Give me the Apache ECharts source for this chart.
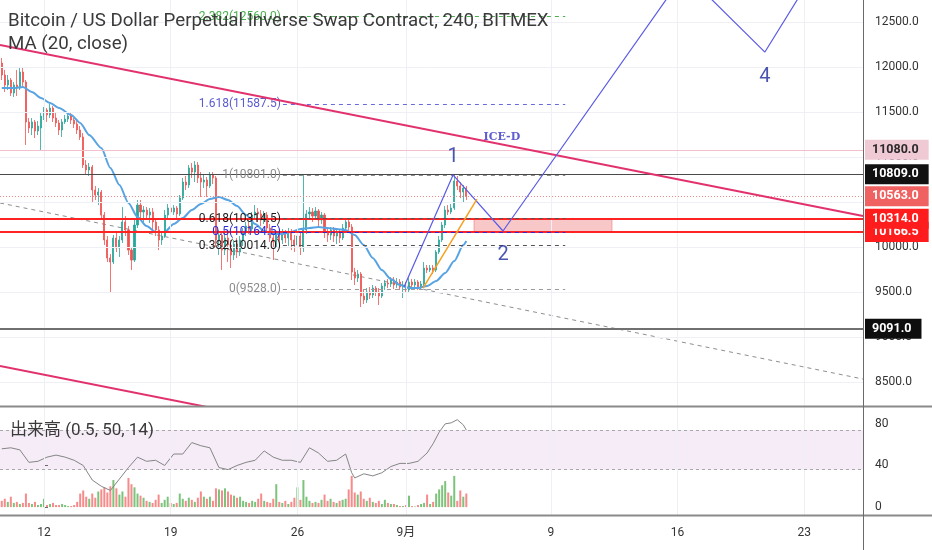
<!DOCTYPE html>
<html><head><meta charset="utf-8">
<script src="https://cdn.jsdelivr.net/npm/echarts@6/dist/echarts.min.js"></script>
<style>html,body{margin:0;padding:0;background:#fff}#c{width:932px;height:550px}</style>
</head><body><div id="c"></div>
<script>
// ---- data ----
const startDay = -2 - 1/3;          // first 4h bar: Aug 9 16:00 (days from Aug 12 00:00)
const barDays = 1/6;                // 4h bars
const candles = [ // [open, close, low, high]
[12044,11911,11855,12100],[11911,11800,11722,11967],[11800,11855,11744,11911],[11855,11711,11678,11878],[11711,11800,11666,11833],
[11800,11766,11678,11967],[11766,11944,11744,11989],[11944,11833,11789,12000],[11833,11389,11133,11855],[11389,11322,11266,11433],
[11322,11389,11244,11433],[11389,11289,11211,11411],[11289,11344,11244,11400],[11322,11455,11078,11500],[11455,11522,11411,11555],
[11522,11467,11389,11544],[11467,11544,11433,11589],[11544,11433,11389,11566],[11433,11378,11333,11500],[11378,11300,11244,11411],
[11300,11389,11222,11422],[11389,11422,11367,11467],[11422,11455,11389,11489],[11455,11411,11367,11489],[11411,11367,11322,11433],
[11367,11300,11255,11400],[11300,11222,11189,11344],[11222,10911,10878,11266],[10911,10855,10800,10966],[10855,10889,10789,10933],
[10889,10633,10489,10911],[10633,10578,10522,10678],[10578,10611,10466,10655],[10611,10355,10300,10633],[10355,10078,10022,10389],
[10078,9878,9833,10122],[9878,9833,9500,9922],[9833,10100,9811,10133],[10100,9989,9944,10167],[9989,10078,9889,10122],
[10078,10278,10044,10444],[10278,10189,10122,10344],[10189,9966,9911,10233],[9966,9855,9744,10000],[9855,10244,9833,10300],
[10244,10466,10211,10522],[10466,10389,10322,10522],[10389,10411,10278,10455],[10411,10355,10300,10444],[10355,10389,10267,10433],
[10389,10278,10189,10433],[10278,10189,10122,10322],[10189,10078,9966,10233],[10078,10122,10022,10167],[10122,10355,10100,10411],
[10355,10433,10322,10478],[10433,10389,10344,10478],[10389,10433,10355,10466],[10433,10367,10322,10455],[10367,10544,10344,10578],
[10544,10722,10522,10767],[10722,10689,10633,10789],[10689,10878,10655,10911],[10878,10833,10767,10933],[10833,10911,10722,10955],
[10911,10767,10711,10944],[10767,10722,10555,10833],[10722,10744,10655,10800],[10744,10678,10555,10778],[10678,10800,10655,10833],
[10800,10767,10700,10833],[10767,10078,9989,10789],[10078,10133,9911,10189],[10133,9966,9744,10167],[9966,10100,9911,10155],
[10100,10022,9833,10144],[10022,9911,9767,10078],[9911,10033,9855,10078],[10033,9944,9878,10100],[9944,10078,9900,10122],
[10078,10167,10011,10211],[10167,10233,10122,10278],[10233,10200,10144,10278],[10200,10355,10178,10389],[10355,10389,10300,10466],
[10389,10367,10278,10433],[10367,10300,10233,10411],[10300,10355,10255,10400],[10355,10211,10167,10389],[10211,10100,10056,10255],
[10100,10056,9855,10144],[10056,10133,9989,10178],[10133,10078,10011,10189],[10078,10144,10033,10200],[10144,10100,10044,10189],
[10100,10167,10011,10211],[10167,10078,9966,10200],[10078,10022,9944,10133],[10022,10122,9966,10167],[10122,9989,9911,10155],
[9989,10189,9944,10801],[10189,10367,10144,10411],[10367,10389,10300,10444],[10389,10344,10278,10433],[10344,10400,10300,10444],
[10400,10300,10233,10422],[10300,10355,10255,10389],[10355,10167,10100,10378],[10167,10133,10056,10211],[10133,10189,10078,10222],
[10189,10122,10056,10222],[10122,10167,10033,10200],[10167,10100,10044,10189],[10100,10211,10078,10255],[10211,10278,10167,10322],
[10278,10222,10189,10311],[10222,9722,9633,10255],[9722,9655,9578,9767],[9655,9700,9611,9744],[9700,9455,9333,9722],
[9455,9411,9366,9522],[9411,9500,9378,9544],[9500,9466,9422,9555],[9466,9544,9433,9578],[9544,9500,9455,9566],
[9500,9455,9355,9544],[9455,9566,9433,9600],[9566,9600,9522,9633],[9600,9589,9544,9644],[9589,9633,9555,9666],
[9633,9578,9533,9666],[9578,9611,9544,9655],[9611,9555,9522,9644],[9555,9578,9433,9622],[9578,9522,9500,9611],
[9522,9611,9500,9655],[9611,9578,9544,9644],[9578,9611,9544,9644],[9611,9555,9522,9633],[9555,9589,9522,9622],
[9589,9766,9566,9833],[9766,9744,9711,9800],[9744,9766,9722,9800],[9766,9744,9700,9800],[9744,9944,9722,9966],
[9944,10078,9922,10122],[10078,10244,10056,10278],[10244,10411,10211,10455],[10411,10389,10355,10466],[10389,10433,10366,10478],
[10433,10733,10411,10801],[10733,10678,10633,10789],[10678,10611,10544,10722],[10611,10655,10489,10689],[10655,10563,10522,10678]
];
const volumes = [
6,8,5,10,4,5,3,4,13,4, 3,5,2,3,8,2,3,4,2,2, 3,2,1,1,2,5,13,16,10,8, 13,9,15,17,19,14,20,26,18,12,
15,10,28,22,19,13,11,9,6,5, 4,7,12,4,7,10,4,3,4,13, 8,6,9,7,5,9,15,10,8,10, 6,18,17,16,18,15,12,11,9,10,
6,5,4,6,5,8,13,6,5,4, 8,22,5,4,6,3,5,9,19,7, 26,10,6,4,5,4,7,12,6,8, 5,4,6,7,8,17,30,14,12,15,
8,6,9,5,4,6,3,7,4,3, 3,2,1,1,2,11,1,0.5,2,3, 4,12,3,5,13,17,21,25,14,11, 30,6,16,10,13
];
const maIdx = [0,4,7,10,13,16,19,23,26,29,33,36,39,42,45,48,51,54,57,60,63,66,69,72,75,78,81,84,87,90,93,96,99,102,105,108,111,114,117,120,123,126,129,132,135,138,141,144,147,150,153,154];
const maVal = [11766,11766,11778,11722,11655,11600,11544,11467,11378,11244,11100,10878,10689,10489,10333,10233,10167,10167,10255,10322,10411,10478,10533,10555,10522,10455,10355,10255,10178,10144,10144,10167,10200,10211,10222,10211,10200,10189,10133,10022,9878,9744,9644,9578,9544,9544,9567,9622,9711,9844,10022,10067];
const oscIdx = [0,3,6,9,12,15,18,21,24,27,30,33,36,39,42,45,48,51,54,57,60,63,66,69,72,75,78,81,84,87,90,93,96,99,102,105,108,111,114,116,117,120,123,126,129,132,135,138,141,143,145,147,149,151,153,154];
const oscVal = [56,57,55,43,44,48,50,48,45,40,26,20,16,27,38,48,44,45,40,51,51,62,59,57,38,36,40,43,45,54,48,45,45,43,57,52,44,45,51,33,28,32,30,33,39,42,42,44,52,61,72,80,81,84,79,74];
const oscBand = [36, 74];
const xTickDays = [0, 7, 14, 20, 28, 35, 42];
const xTickLabels = ['12', '19', '26', '9月', '9', '16', '23'];
const priceTicks = [8500, 9000, 9500, 10000, 10500, 11000, 11500, 12000, 12500];
const oscTicks = [0, 40, 80];
const levelPrices = [11080, 10809, 10563, 10166.5, 10314, 9091];
const fibRatios = ['2.382', '1.618', '1', '0.618', '0.5', '0.382', '0'];
const fibValues = [12560.0, 11587.5, 10801.0, 10314.5, 10164.5, 10014.0, 9528.0];
const fibSpan = [13.2, 28.8];
const upperTrend = [[-2.431, 12244], [45.25, 10344]];
const lowerTrend = [[-2.431, 8678], [45.25, 6778]];
const supportTrend = [[-2.431, 10489], [45.25, 8533]];
const wavePath = [[19.89, 9556], [22.6, 10801], [25.36, 10178], [35.41, 13044], [39.83, 12166], [42.6, 13066]];
const orangeLine = [[20.94, 9544], [23.92, 10533]];
const zoneBox = [[23.76, 10314], [31.38, 10166.5]];
const waveLabels = [[22.6, 11000, '1'], [25.36, 9911, '2'], [39.83, 11889, '4']];
const noteLabel = [[25.3, 11222, 'ICE-D']];

// ---- styles ----
const FONT = "Roboto, 'Noto Sans CJK JP', sans-serif";
const UP = '#26a69a', DOWN = '#ef5350';
const levelStyle = {
  11080: {line: {color: '#f2bfcd', width: 1, type: 'solid'}, bg: '#efc9d4', fg: '#2a2a2a'},
  10809: {line: {color: '#4a4a4a', width: 1.2, type: 'solid'}, bg: '#111111', fg: '#ffffff'},
  10563: {line: {color: '#f08a8a', width: 1, type: [1, 2]}, bg: '#f06262', fg: '#ffffff'},
  10314: {line: {color: '#ff2323', width: 2, type: 'solid'}, bg: '#ff1c1c', fg: '#ffffff'},
  10166.5: {line: {color: '#ff2323', width: 2, type: 'solid'}, bg: '#ff1c1c', fg: '#ffffff'},
  9091: {line: {color: '#707070', width: 2, type: 'solid'}, bg: '#0e0e0e', fg: '#ffffff'}
};
const fibStyle = {
  '2.382': {line: '#4caf50', text: '#4caf50'},
  '1.618': {line: '#6b6be0', text: '#5b5bd0'},
  '1': {line: '#8c8c8c', text: '#8c8c8c'},
  '0.618': {line: '#555555', text: '#1a1a1a'},
  '0.5': {line: '#2a2ad8', text: '#2a2ad8'},
  '0.382': {line: '#555555', text: '#1a1a1a'},
  '0': {line: '#9a9a9a', text: '#8c8c8c'}
};

const dayOf = i => startDay + i * barDays;
const chart = echarts.init(document.getElementById('c'));

const gridLineStyle = {color: '#eef0f5', width: 1, type: 'solid'};

const option = {
  animation: false,
  backgroundColor: '#ffffff',
  grid: [
    {left: 0, right: 69, top: 0, height: 406},
    {left: 0, right: 69, top: 407, height: 108}
  ],
  xAxis: [
    {type: 'value', gridIndex: 0, min: -2.431, max: 45.25, show: false},
    {type: 'value', gridIndex: 1, min: -2.431, max: 45.25,
      axisLine: {show: false}, splitLine: {show: false},
      axisTick: {show: true, customValues: xTickDays, length: 5, lineStyle: {color: '#666'}},
      axisLabel: {customValues: xTickDays, margin: 12, color: '#333', fontSize: 12, fontFamily: FONT,
        formatter: v => xTickLabels[xTickDays.indexOf(Math.round(v))] || ''}}
  ],
  yAxis: [
    {type: 'value', gridIndex: 0, position: 'right', min: 8233.3, max: 12744.4, scale: true,
      axisLine: {show: false}, splitLine: {show: false},
      axisTick: {show: true, customValues: priceTicks, length: 4, lineStyle: {color: '#666'}},
      axisLabel: {customValues: priceTicks, margin: 12, color: '#333', fontSize: 12, fontFamily: FONT,
        formatter: v => v.toFixed(1)}},
    {type: 'value', gridIndex: 1, position: 'right', min: -7.6, max: 96.2,
      axisLine: {show: false}, splitLine: {show: false},
      axisTick: {show: true, customValues: oscTicks, length: 4, lineStyle: {color: '#666'}},
      axisLabel: {customValues: oscTicks, margin: 12, color: '#333', fontSize: 12, fontFamily: FONT}}
  ],
  series: [
    // grid lines main pane
    {type: 'line', xAxisIndex: 0, yAxisIndex: 0, data: [[0, 10000]], showSymbol: false, symbol: 'none',
      lineStyle: {opacity: 0}, silent: true, z: 0,
      markLine: {symbol: ['none', 'none'], silent: true, label: {show: false}, lineStyle: gridLineStyle,
        data: [...priceTicks.map(v => ({yAxis: v})), ...xTickDays.map(d => ({xAxis: d}))]}},
    // grid lines lower pane
    {type: 'line', xAxisIndex: 1, yAxisIndex: 1, data: [[0, 50]], showSymbol: false, symbol: 'none',
      lineStyle: {opacity: 0}, silent: true, z: 0,
      markArea: {silent: true, itemStyle: {color: 'rgba(175,110,195,0.13)'},
        data: [[{yAxis: oscBand[0]}, {yAxis: oscBand[1]}]]},
      markLine: {symbol: ['none', 'none'], silent: true, label: {show: false}, lineStyle: gridLineStyle,
        data: xTickDays.map(d => ({xAxis: d}))}},
    // zone rectangle
    {type: 'line', xAxisIndex: 0, yAxisIndex: 0, data: [[0, 10000]], showSymbol: false, symbol: 'none',
      lineStyle: {opacity: 0}, silent: true, z: 1,
      markArea: {silent: true, itemStyle: {color: 'rgba(240,130,130,0.45)', borderColor: 'rgba(238,120,120,0.6)', borderWidth: 1},
        data: [[{coord: zoneBox[0]}, {coord: zoneBox[1]}]]}},
    // support dashed trend
    {type: 'line', xAxisIndex: 0, yAxisIndex: 0, data: supportTrend, symbol: 'none', silent: true, z: 2,
      lineStyle: {color: '#8e8e8e', width: 1, type: [4, 4]}},
    // candles
    {type: 'candlestick', xAxisIndex: 0, yAxisIndex: 0, z: 3,
      data: candles.map((c, i) => [dayOf(i), c[0], c[1], c[2], c[3]]),
      encode: {x: 0, y: [1, 2, 3, 4]},
      barWidth: 1.6,
      itemStyle: {color: UP, color0: DOWN, borderColor: UP, borderColor0: DOWN, borderWidth: 0.8}},
    // MA 20
    {type: 'line', xAxisIndex: 0, yAxisIndex: 0, z: 4, symbol: 'none', smooth: 0.25, smoothMonotone: 'x',
      data: maIdx.map((i, k) => [dayOf(i), maVal[k]]),
      lineStyle: {color: '#58a3e2', width: 2}},
    // level lines + price tags
    {type: 'line', xAxisIndex: 0, yAxisIndex: 0, data: [[0, 10000]], showSymbol: false, symbol: 'none',
      lineStyle: {opacity: 0}, silent: true, z: 5,
      markLine: {symbol: ['none', 'none'], silent: true,
        data: levelPrices.map(v => ({yAxis: v, lineStyle: levelStyle[v].line,
          label: {show: true, position: 'end', distance: 2, formatter: v.toFixed(1),
            backgroundColor: levelStyle[v].bg, color: levelStyle[v].fg, fontSize: 12.5, fontWeight: 'bold',
            fontFamily: FONT, lineHeight: 14, padding: [3, 10, 3, 7]}}))}},
    // fib levels
    {type: 'line', xAxisIndex: 0, yAxisIndex: 0, data: [[0, 10000]], showSymbol: false, symbol: 'none',
      lineStyle: {opacity: 0}, silent: true, z: 6,
      markLine: {symbol: ['none', 'none'], silent: true,
        data: fibRatios.map((r, k) => [
          {coord: [fibSpan[0], fibValues[k]], lineStyle: {color: fibStyle[r].line, width: 1, type: [4, 4]},
            label: {show: true, position: 'start', distance: 2, formatter: r + '(' + fibValues[k].toFixed(1) + ')',
              color: fibStyle[r].text, fontSize: 12, fontFamily: FONT}},
          {coord: [fibSpan[1], fibValues[k]]}])}},
    // upper & lower channel
    {type: 'line', xAxisIndex: 0, yAxisIndex: 0, data: upperTrend, symbol: 'none', silent: true, z: 7,
      lineStyle: {color: '#e2326e', width: 2}},
    {type: 'line', xAxisIndex: 0, yAxisIndex: 0, data: lowerTrend, symbol: 'none', silent: true, z: 7,
      lineStyle: {color: '#e2326e', width: 2}},
    // wave path
    {type: 'line', xAxisIndex: 0, yAxisIndex: 0, data: wavePath, symbol: 'none', silent: true, z: 8,
      lineStyle: {color: '#5b5be6', width: 1.2}},
    {type: 'line', xAxisIndex: 0, yAxisIndex: 0, data: orangeLine, symbol: 'none', silent: true, z: 8,
      lineStyle: {color: '#f6a01f', width: 1.5}},
    // wave labels
    {type: 'scatter', xAxisIndex: 0, yAxisIndex: 0, data: waveLabels, symbolSize: 0, silent: true, z: 9,
      label: {show: true, position: 'inside', formatter: p => p.data[2], color: '#1b2a9c', fontSize: 20, fontFamily: FONT}},
    {type: 'scatter', xAxisIndex: 0, yAxisIndex: 0, data: noteLabel, symbolSize: 0, silent: true, z: 9,
      label: {show: true, position: 'inside', formatter: p => p.data[2], color: '#3434c4', fontSize: 11, fontWeight: 'bold', fontFamily: "'DejaVu Serif', serif"}},
    // lower pane: volume, oscillator
    {type: 'bar', xAxisIndex: 1, yAxisIndex: 1, barWidth: 2, z: 2, silent: true,
      data: volumes.map((v, i) => ({value: [dayOf(i), v],
        itemStyle: {color: candles[i][1] >= candles[i][0] ? '#7cc37c' : '#f78a8a'}}))},
    {type: 'line', xAxisIndex: 1, yAxisIndex: 1, z: 3, symbol: 'none', silent: true,
      data: oscIdx.map((i, k) => [dayOf(i), oscVal[k]]),
      lineStyle: {color: '#858585', width: 1},
      markLine: {symbol: ['none', 'none'], silent: true, label: {show: false},
        lineStyle: {color: '#a8a8a8', width: 1, type: [3, 3]},
        data: oscBand.map(v => ({yAxis: v}))}}
  ],
  graphic: [
    {type: 'line', z: 50, shape: {x1: 0, y1: 406.5, x2: 932, y2: 406.5}, style: {stroke: '#8a8a8a', lineWidth: 2}},
    {type: 'line', z: 50, shape: {x1: 0, y1: 515.5, x2: 932, y2: 515.5}, style: {stroke: '#8a8a8a', lineWidth: 2}},
    {type: 'line', z: 50, shape: {x1: 863.5, y1: 0, x2: 863.5, y2: 550}, style: {stroke: '#6a6a6a', lineWidth: 1}},
    {type: 'text', z: 60, left: 8, top: 12, style: {text: 'Bitcoin / US Dollar Perpetual Inverse Swap Contract, 240, BITMEX', fill: '#3a3a3a', font: '18.7px ' + FONT}},
    {type: 'text', z: 60, left: 8, top: 35, style: {text: 'MA (20, close)', fill: '#3a3a3a', font: '18.7px ' + FONT}},
    {type: 'text', z: 60, left: 10, top: 422, style: {text: '出来高 (0.5, 50, 14)', fill: '#3a3a3a', font: '17px ' + FONT}}
  ]
};
chart.setOption(option);
</script>
</body></html>
